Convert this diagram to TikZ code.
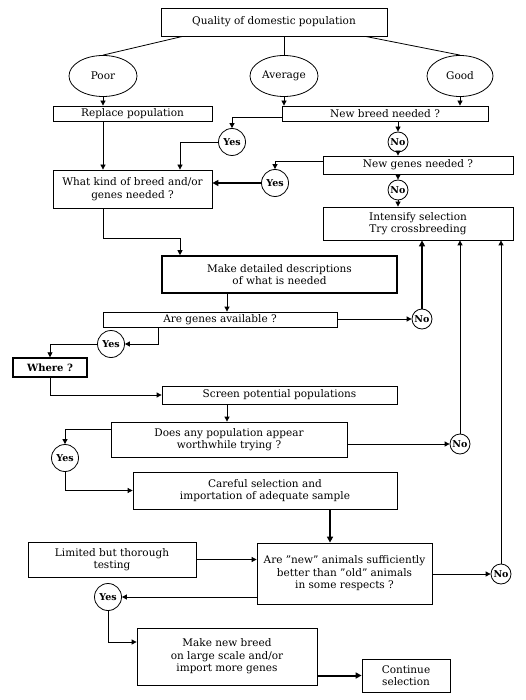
\documentclass[tikz,border=0pt]{standalone}
\usepackage{fontspec}
\setmainfont{DejaVu Serif}
\usetikzlibrary{shapes.geometric, arrows.meta}

\begin{document}
\begin{tikzpicture}[x=1pt, y=-1pt, font=\fontsize{10.5}{12.5}\selectfont,
    box/.style={draw, line width=0.8pt, inner sep=1pt, align=center},
    oval/.style={draw, ellipse, line width=0.8pt, inner sep=0pt},
    yes/.style={draw, circle, line width=0.8pt, inner sep=0pt, minimum size=27pt, font=\fontsize{9.5}{11}\selectfont\bfseries},
    no/.style={draw, circle, line width=0.8pt, inner sep=0pt, minimum size=20pt, font=\fontsize{9.5}{11}\selectfont\bfseries},
    link/.style={line width=0.8pt},
    arr/.style={link, -{Triangle[length=5pt, width=5pt]}},
    fat/.style={line width=2pt, -{Triangle[length=6pt, width=6pt]}}]
    \useasboundingbox (0,0) rectangle (525,700);

    % top of the chart
    \node[box, minimum width=226pt, minimum height=28pt] (quality) at (274,22) {Quality of domestic population};
    \node[oval, minimum width=68pt, minimum height=41pt] (poor) at (103,76) {Poor};
    \node[oval, minimum width=68pt, minimum height=41pt] (average) at (284,76) {Average};
    \node[oval, minimum width=66pt, minimum height=41pt] (good) at (460,76) {Good};
    \node[box, minimum width=159pt, minimum height=15pt] (replace) at (132.5,113.5) {Replace population};
    \node[box, minimum width=206pt, minimum height=15pt] (newbreed) at (385,113.5) {New breed needed ?};
    \node[yes] (yes1) at (232,142) {Yes};
    \node[no] (no1) at (398,142) {No};
    \node[box, minimum width=190pt, minimum height=18pt] (newgenes) at (418,165) {New genes needed ?};
    \node[yes] (yes2) at (275,183) {Yes};
    \node[box, minimum width=159pt, minimum height=38pt] (kind) at (132.5,189) {What kind of breed and/or\\ genes needed ?};
    \node[no] (no2) at (398,190) {No};
    \node[box, minimum width=190pt, minimum height=33pt] (intensify) at (418,223.5) {Intensify selection\\ Try crossbreeding};

    % search for genes
    \node[box, line width=1.6pt, minimum width=235pt, minimum height=37pt] (detail) at (279.5,274.5) {Make detailed descriptions\\ of what is needed};
    \node[box, minimum width=234pt, minimum height=15pt] (genes) at (220,319.5) {Are genes available ?};
    \node[no] (no3) at (422,319) {No};
    \node[yes] (yes3) at (111,344) {Yes};
    \node[box, line width=1.4pt, font=\fontsize{10}{12}\selectfont\bfseries, minimum width=74pt, minimum height=19pt] (where) at (50,367.5) {Where ?};
    \node[box, minimum width=235pt, minimum height=18pt] (screen) at (279.5,395) {Screen potential populations};
    \node[box, minimum width=236pt, minimum height=35pt] (doesany) at (229,439.5) {Does any population appear\\ worthwhile trying ?};
    \node[yes] (yes4) at (65,458) {Yes};
    \node[no] (no4) at (460,444) {No};
    \node[box, minimum width=264pt, minimum height=37pt] (careful) at (265,490.5) {Careful selection and\\ importation of adequate sample};

    % testing
    \node[box, minimum width=175pt, minimum height=61pt] (arenew) at (344.5,573.5) {Are "new" animals sufficiently\\ better than "old" animals\\ in some respects ?};
    \node[box, minimum width=168pt, minimum height=35pt] (limited) at (112,559.5) {Limited but thorough\\ testing};
    \node[no] (no5) at (501,574) {No};
    \node[yes] (yes5) at (108,597) {Yes};
    \node[box, minimum width=180pt, minimum height=57pt] (makenew) at (227,656.5) {Make new breed\\ on large scale and/or\\ import more genes};
    \node[box, minimum width=88pt, minimum height=33pt] (continue) at (406,675.5) {Continue\\ selection};

    \coordinate (axis) at (227,0);
    \coordinate (axis2) at (330,0);

    % connectors
    \draw[link] ([xshift=22pt]quality.south west) -- (poor.north);
    \draw[link] (average |- quality.south) -- (average.north);
    \draw[link] ([xshift=-22pt]quality.south east) -- (good.north);
    \draw[arr] (poor.south) -- (poor |- replace.north);
    \draw[arr] (average.south) -- (average |- newbreed.north);
    \draw[arr] (good.south) -- (good |- newbreed.north);
    \draw[arr] ([yshift=-3.5pt]newbreed.west) -| (yes1.north);
    \draw[arr] (no1 |- newbreed.south) -- (no1.north);
    \draw[arr] (no1.south) -- (no1 |- newgenes.north);
    \draw[arr] (yes1.west) -| ([xshift=47.5pt]kind.north);
    \draw[arr] (poor |- replace.south) -- (poor |- kind.north);
    \draw[arr] ([yshift=4pt]newgenes.west) -| (yes2.north);
    \draw[fat] (yes2.west) -- (yes2 -| kind.east);
    \draw[arr] (no2 |- newgenes.south) -- (no2.north);
    \draw[arr] (no2.south) -- (no2 |- intensify.north);
    \draw[arr] (poor |- kind.south) -- ++(0,30) -| ([xshift=-99.5pt]detail.north);
    \draw[arr] (axis |- detail.south) -- (axis |- genes.north);
    \draw[arr] (no3 -| genes.east) -- (no3.west);
    \draw[fat] (no3.north) -- (no3 |- intensify.south);
    \draw[arr] ([xshift=-62pt]genes.south) |- (yes3.east);
    \draw[arr] (yes3.west) -| (where.north);
    \draw[arr] (where.south) |- (screen.west);
    \draw[arr] (axis |- screen.south) -- (axis |- doesany.north);
    \draw[arr] ([yshift=10.5pt]doesany.west) -| (yes4.north);
    \draw[arr] (yes4.south) |- (careful.west);
    \draw[arr] (no4 -| doesany.east) -- (no4.west);
    \draw[arr] (no4.north) -- (no4 |- intensify.south);
    \draw[fat] (axis2 |- careful.south) -- (axis2 |- arenew.north);
    \draw[arr] (limited.east) -- (limited.east -| arenew.west);
    \draw[arr] (no5 -| arenew.east) -- (no5.west);
    \draw[arr] (no5.north) -- (no5 |- intensify.south);
    \draw[arr] (yes5 -| arenew.west) -- (yes5.east);
    \draw[arr] (yes5.south) |- ([yshift=14.5pt]makenew.west);
    \draw[fat] (continue -| makenew.east) -- (continue.west);
\end{tikzpicture}
\end{document}
